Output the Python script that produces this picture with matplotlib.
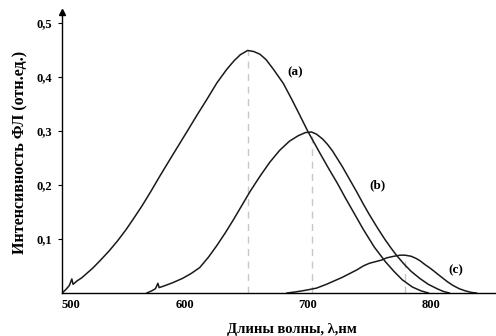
import matplotlib
matplotlib.use("Agg")
import matplotlib.pyplot as plt

# curve (a)
wl_a = [500, 503, 506, 508, 509, 512, 516, 520, 525, 531, 538, 545, 552, 558,
        565, 572, 580, 588, 595, 602, 610, 618, 626, 634, 640, 645, 651, 656,
        661, 666, 672, 680, 687, 693, 700, 710, 717, 724, 730, 737, 745, 754,
        763, 770, 777, 785, 792, 798]
fl_a = [0.0, 0.006, 0.014, 0.026, 0.016, 0.022, 0.028, 0.036, 0.046, 0.060,
        0.077, 0.096, 0.117, 0.137, 0.161, 0.187, 0.218, 0.248, 0.274, 0.300,
        0.330, 0.359, 0.389, 0.414, 0.430, 0.441, 0.449, 0.447, 0.442, 0.432,
        0.414, 0.388, 0.358, 0.331, 0.299, 0.258, 0.230, 0.203, 0.178, 0.150,
        0.118, 0.085, 0.058, 0.040, 0.024, 0.011, 0.004, 0.0]

# curve (b)
wl_b = [569, 573, 576, 578, 579, 583, 590, 598, 605, 612, 619, 626, 633, 639,
        646, 653, 661, 669, 677, 685, 692, 698, 703, 707, 712, 716, 720, 728,
        734, 740, 745, 750, 757, 763, 768, 772, 778, 784, 791, 798, 805, 810,
        815]
fl_b = [0.0, 0.004, 0.008, 0.018, 0.010, 0.013, 0.019, 0.027, 0.036, 0.047,
        0.066, 0.088, 0.112, 0.134, 0.161, 0.188, 0.216, 0.242, 0.264, 0.281,
        0.291, 0.297, 0.298, 0.294, 0.285, 0.275, 0.263, 0.234, 0.210, 0.186,
        0.165, 0.145, 0.119, 0.098, 0.082, 0.070, 0.054, 0.040, 0.027, 0.016,
        0.008, 0.003, 0.0]

# curve (c)
wl_c = [683, 690, 698, 707, 715, 722, 728, 734, 740, 745, 750, 755, 760, 764,
        770, 775, 779, 784, 788, 791, 795, 800, 805, 810, 814, 818, 823, 828,
        833, 837]
fl_c = [0.0, 0.002, 0.005, 0.009, 0.016, 0.023, 0.029, 0.036, 0.043, 0.050,
        0.055, 0.058, 0.061, 0.065, 0.068, 0.070, 0.070, 0.068, 0.064, 0.060,
        0.053, 0.045, 0.036, 0.027, 0.020, 0.014, 0.008, 0.004, 0.001, 0.0]

# peak markers (dashed lines)
peak_wl = [651, 703, 779]
peak_fl = [0.449, 0.298, 0.070]

labels = ["(a)", "(b)", "(c)"]
label_pos = [(683, 0.409), (750, 0.200), (814, 0.042)]

xticks = [500, 600, 700, 800]
yticks = [0.1, 0.2, 0.3, 0.4, 0.5]
ytick_labels = ["0,1", "0,2", "0,3", "0,4", "0,5"]

plt.rcParams['font.family'] = ['Liberation Serif', 'DejaVu Serif']

fig = plt.figure(figsize=(4.96, 3.36), dpi=100)
ax = fig.add_axes([0.125, 0.128, 0.875, 0.836])

for w, f in zip(peak_wl, peak_fl):
    ax.plot([w, w], [0, f], color='#c8c8c8', lw=1.0, ls=(0, (5, 4)), zorder=1)

for w, f in [(wl_a, fl_a), (wl_b, fl_b), (wl_c, fl_c)]:
    ax.plot(w, f, color='#1a1a1a', lw=1.1, zorder=2)

for lab, (x, y) in zip(labels, label_pos):
    ax.text(x, y, lab, fontsize=9.5, fontweight='bold', ha='left', va='center')

ax.set_xlim(500, 853)
ax.set_ylim(0, 0.52)
ax.spines['top'].set_visible(False)
ax.spines['right'].set_visible(False)
ax.spines['left'].set_linewidth(1.0)
ax.spines['bottom'].set_linewidth(1.0)
ax.plot(0, 1, marker='^', color='k', ms=4, transform=ax.transAxes, clip_on=False)

ax.set_xticks(xticks)
ax.set_xticklabels([str(t) for t in xticks], fontsize=9, fontweight='bold')
ax.get_xticklabels()[0].set_horizontalalignment('left')
ax.set_yticks(yticks)
ax.set_yticklabels(ytick_labels, fontsize=9, fontweight='bold')
ax.tick_params(axis='x', length=0, pad=4)
ax.tick_params(axis='y', length=3, pad=4)

ax.set_ylabel("Интенсивность ФЛ (отн.ед.)", fontsize=11.5, fontweight='bold', labelpad=6)
fig.text(0.589, 0.018, "Длины волны, λ,нм", fontsize=10.5, fontweight='bold',
         ha='center', va='center')

fig.savefig("out.png", dpi=100)
